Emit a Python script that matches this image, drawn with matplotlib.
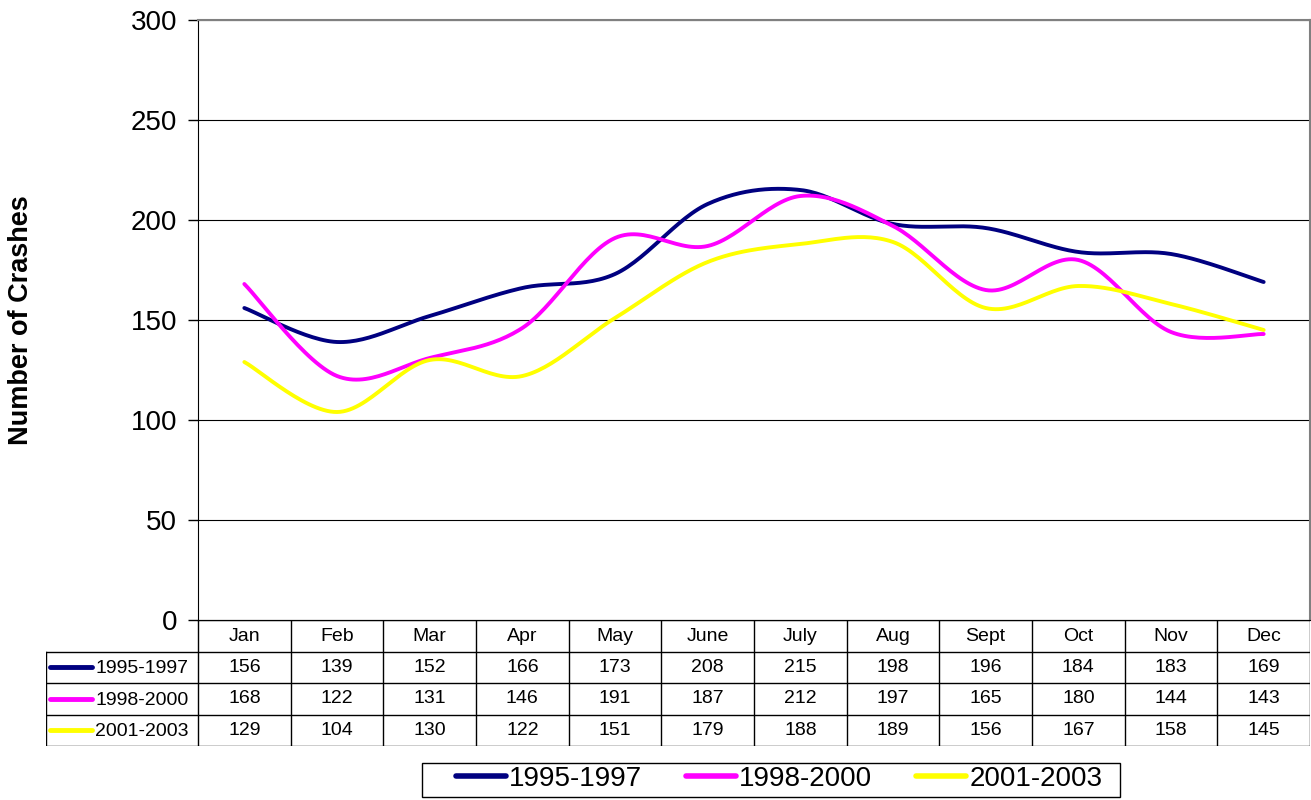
import numpy as np
import matplotlib
matplotlib.use("Agg")
import matplotlib.pyplot as plt
from matplotlib.patches import Rectangle

plt.rcParams['font.family'] = ['Liberation Sans', 'DejaVu Sans']

months = ["Jan", "Feb", "Mar", "Apr", "May", "June", "July", "Aug", "Sept", "Oct", "Nov", "Dec"]
labels = ["1995-1997", "1998-2000", "2001-2003"]
s1 = [156, 139, 152, 166, 173, 208, 215, 198, 196, 184, 183, 169]
s2 = [168, 122, 131, 146, 191, 187, 212, 197, 165, 180, 144, 143]
s3 = [129, 104, 130, 122, 151, 179, 188, 189, 156, 167, 158, 145]
series = [s1, s2, s3]
colors = ["#000080", "#FF00FF", "#FFFF00"]


def smooth(x, y, n=30):
    # catmull-rom, like excel's "smoothed line"
    x = np.asarray(x, float)
    y = np.asarray(y, float)
    px = np.concatenate([[x[0]], x, [x[-1]]])
    py = np.concatenate([[y[0]], y, [y[-1]]])
    xs, ys = [], []
    t = np.linspace(0, 1, n)
    for i in range(1, len(px) - 2):
        for p, out in ((px, xs), (py, ys)):
            p0, p1, p2, p3 = p[i - 1], p[i], p[i + 1], p[i + 2]
            c1 = p1 + (p2 - p0) / 6
            c2 = p2 - (p3 - p1) / 6
            out.extend((1 - t) ** 3 * p1 + 3 * (1 - t) ** 2 * t * c1 + 3 * (1 - t) * t ** 2 * c2 + t ** 3 * p2)
    return np.array(xs), np.array(ys)


W, H = 1311, 800
fig = plt.figure(figsize=(W / 100, H / 100), dpi=100)
ax = fig.add_axes([198 / W, 1 - 620 / H, (1310 - 198) / W, 600 / H])

xpos = np.arange(len(months)) + 0.5
lines = []
for vals, c, lab in zip(series, colors, labels):
    sx, sy = smooth(xpos, vals)
    ln, = ax.plot(sx, sy, color=c, lw=2.8, label=lab, solid_capstyle='round')
    lines.append(ln)

ax.set_xlim(0, 12)
ax.set_ylim(0, 300)
ax.set_yticks(range(0, 301, 50))
ax.yaxis.grid(True, color='black', lw=0.8)
ax.set_axisbelow(True)
ax.set_xticks([])
ax.tick_params(axis='y', labelsize=20, length=7, width=1, direction='out', pad=8)
for side in ['top', 'right']:
    ax.spines[side].set_color('#808080')
    ax.spines[side].set_linewidth(1.5)
ax.spines['left'].set_color('black')
ax.spines['bottom'].set_color('black')
fig.text(21 / W, 1 - 320 / H, "Number of Crashes", rotation=90, fontsize=19.5,
         fontweight='bold', ha='center', va='center')

# data table below the plot
u = (1310 - 198) / 12
L = (198 - 46) / u
tab = fig.add_axes([46 / W, 1 - 746 / H, (1310 - 46) / W, 126 / H])
tab.set_xlim(-L, 12)
tab.set_ylim(4, 0)
tab.axis('off')
lc = dict(color='black', lw=1.0)
tab.plot([0, 12], [0, 0], **lc)
for r in range(1, 5):
    tab.plot([-L, 12], [r, r], **lc)
for cx in range(0, 13):
    tab.plot([cx, cx], [0, 4], **lc)
tab.plot([-L, -L], [1, 4], **lc)
for i, m in enumerate(months):
    tab.text(i + 0.5, 0.52, m, ha='center', va='center', fontsize=14)
for r, (vals, c, lab) in enumerate(zip(series, colors, labels)):
    yy = r + 1.5
    tab.plot([-1.60, -1.14], [yy, yy], color=c, lw=3.5, solid_capstyle='round')
    tab.text(-1.11, yy + 0.05, lab, ha='left', va='center', fontsize=14)
    for i, v in enumerate(vals):
        tab.text(i + 0.5, yy, str(v), ha='center', va='center', fontsize=14)

# legend with an outer box like excel's
fig.patches.append(Rectangle((422 / W, 1 - 797 / H), (1120 - 422) / W, 34 / H,
                             transform=fig.transFigure, fill=False, ec='black', lw=1.0))
leg = fig.legend(handles=lines, loc='center', bbox_to_anchor=(779 / W, 1 - 779 / H),
                 ncol=3, fontsize=20, frameon=False,
                 handlelength=1.8, handletextpad=0.1, columnspacing=1.6, borderpad=0.1,
                 borderaxespad=0)
for h in leg.legend_handles:
    h.set_linewidth(4)

fig.savefig("out.png", dpi=100)
